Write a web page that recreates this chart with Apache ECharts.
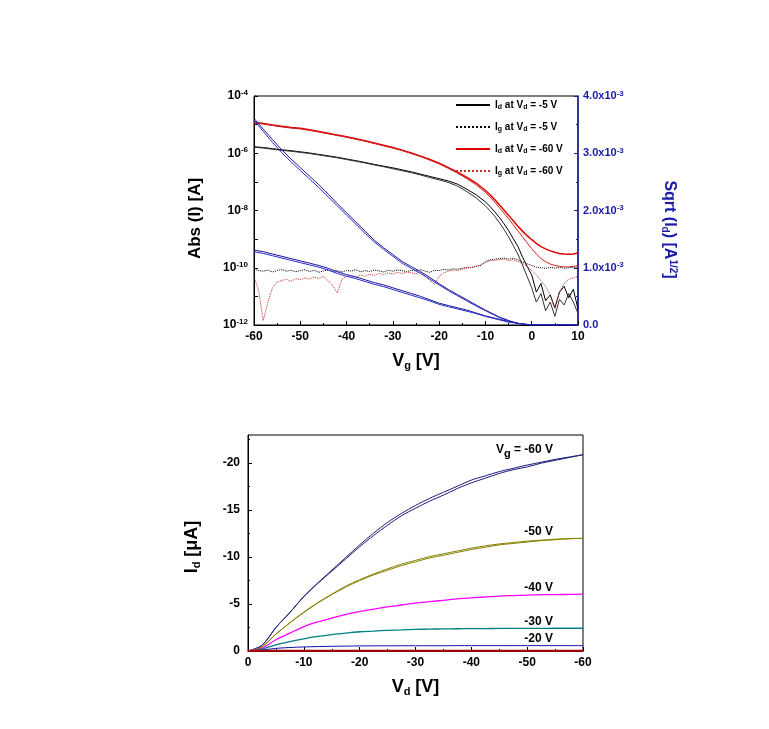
<!DOCTYPE html>
<html>
<head>
<meta charset="utf-8">
<script src="https://cdn.jsdelivr.net/npm/echarts@6/dist/echarts.min.js"></script>
<style>
html, body { margin: 0; padding: 0; background: #fff; }
#chart { width: 769px; height: 729px; }
</style>
</head>
<body>
<div id="chart"></div>
<script>
// gate voltage sweep for drain current and sqrt(Id) curves
var vgA = [-60, -58, -56, -54, -52, -50, -48, -46, -44, -42,
    -40, -38, -36, -34, -32, -30, -28, -26, -24, -22,
    -20, -18, -16, -14, -12, -10, -9, -8, -7, -6,
    -5, -4, -3, -2, -1, 0, 1, 2, 3, 4,
    5, 6, 7, 8, 9, 10];
// log10 of |Id| (A)
var logIdVd5Fwd = [-5.77, -5.80, -5.84, -5.88, -5.91, -5.95, -5.99, -6.04, -6.09, -6.14,
    -6.20, -6.26, -6.32, -6.39, -6.45, -6.51, -6.58, -6.65, -6.73, -6.81,
    -6.89, -6.97, -7.08, -7.26, -7.45, -7.70, -7.86, -8.04, -8.24, -8.46,
    -8.70, -8.98, -9.25, -9.62, -9.95, -10.25, -10.85, -10.55, -11.15, -10.95,
    -11.40, -10.85, -10.65, -11.05, -10.75, -11.45];
var logIdVd5Rev = [-5.79, -5.82, -5.86, -5.90, -5.93, -5.97, -6.01, -6.06, -6.11, -6.16,
    -6.22, -6.28, -6.34, -6.41, -6.47, -6.54, -6.61, -6.68, -6.76, -6.85,
    -6.93, -7.02, -7.15, -7.34, -7.56, -7.84, -8.01, -8.20, -8.42, -8.66,
    -8.92, -9.22, -9.52, -9.90, -10.30, -10.70, -11.20, -10.90, -11.50, -11.20,
    -11.70, -11.10, -11.30, -10.90, -11.20, -11.60];
var logIdVd60Fwd = [-4.92, -4.96, -5.01, -5.06, -5.10, -5.13, -5.18, -5.24, -5.30, -5.36,
    -5.42, -5.49, -5.56, -5.64, -5.72, -5.80, -5.89, -5.99, -6.10, -6.22,
    -6.35, -6.50, -6.66, -6.84, -7.04, -7.30, -7.45, -7.62, -7.80, -7.98,
    -8.17, -8.36, -8.55, -8.72, -8.88, -9.02, -9.15, -9.26, -9.34, -9.41,
    -9.46, -9.50, -9.52, -9.53, -9.52, -9.48];
var logIdVd60Rev = [-4.94, -4.98, -5.03, -5.08, -5.12, -5.15, -5.20, -5.26, -5.32, -5.38,
    -5.44, -5.51, -5.58, -5.66, -5.74, -5.82, -5.91, -6.01, -6.12, -6.24,
    -6.37, -6.53, -6.70, -6.89, -7.10, -7.37, -7.53, -7.71, -7.90, -8.09,
    -8.29, -8.50, -8.71, -8.92, -9.13, -9.33, -9.52, -9.68, -9.79, -9.87,
    -9.92, -9.95, -9.97, -9.97, -9.95, -9.93];
// sqrt(|Id|) in units of 1e-3 A^1/2
var sqrtVd60Fwd = [3.61, 3.42, 3.24, 3.06, 2.90, 2.75, 2.60, 2.45, 2.29, 2.12,
    1.96, 1.80, 1.64, 1.48, 1.35, 1.23, 1.11, 1.02, 0.93, 0.83,
    0.72, 0.62, 0.53, 0.44, 0.35, 0.26, 0.22, 0.18, 0.14, 0.11,
    0.08, 0.05, 0.03, 0.02, 0.01, 0.005, 0.003, 0.002, 0.002, 0.002,
    0.002, 0.002, 0.002, 0.002, 0.002, 0.002];
var sqrtVd60Rev = [3.58, 3.38, 3.19, 3.01, 2.85, 2.70, 2.55, 2.40, 2.24, 2.08,
    1.92, 1.76, 1.60, 1.45, 1.32, 1.20, 1.08, 0.99, 0.90, 0.80,
    0.70, 0.60, 0.51, 0.42, 0.33, 0.25, 0.21, 0.17, 0.13, 0.10,
    0.07, 0.05, 0.03, 0.015, 0.008, 0.004, 0.002, 0.002, 0.002, 0.002,
    0.002, 0.002, 0.002, 0.002, 0.002, 0.002];
var sqrtVd5Fwd = [1.31, 1.28, 1.24, 1.20, 1.16, 1.12, 1.08, 1.04, 0.99, 0.93,
    0.88, 0.84, 0.79, 0.74, 0.70, 0.65, 0.60, 0.55, 0.50, 0.44,
    0.38, 0.34, 0.30, 0.26, 0.21, 0.16, 0.14, 0.12, 0.10, 0.08,
    0.06, 0.05, 0.03, 0.02, 0.01, 0.005, 0.003, 0.002, 0.002, 0.002,
    0.002, 0.002, 0.002, 0.002, 0.002, 0.002];
var sqrtVd5Rev = [1.28, 1.25, 1.21, 1.17, 1.13, 1.09, 1.05, 1.01, 0.96, 0.90,
    0.85, 0.81, 0.76, 0.71, 0.67, 0.62, 0.57, 0.52, 0.47, 0.42,
    0.36, 0.32, 0.28, 0.24, 0.20, 0.15, 0.13, 0.11, 0.09, 0.07,
    0.05, 0.04, 0.025, 0.015, 0.008, 0.004, 0.002, 0.002, 0.002, 0.002,
    0.002, 0.002, 0.002, 0.002, 0.002, 0.002];

// gate leakage sweep, 1 V steps
var vgB = [-60, -59, -58, -57, -56, -55, -54, -53, -52, -51,
    -50, -49, -48, -47, -46, -45, -44, -43, -42, -41,
    -40, -39, -38, -37, -36, -35, -34, -33, -32, -31,
    -30, -29, -28, -27, -26, -25, -24, -23, -22, -21,
    -20, -19, -18, -17, -16, -15, -14, -13, -12, -11,
    -10, -9, -8, -7, -6, -5, -4, -3, -2, -1,
    0, 1, 2, 3, 4, 5, 6, 7, 8, 9,
    10];
var logIgVd5 = [-10.05, -10.10, -10.12, -10.08, -10.15, -10.10, -10.06, -10.12, -10.09, -10.14,
    -10.10, -10.07, -10.13, -10.09, -10.16, -10.11, -10.08, -10.13, -10.10, -10.15,
    -10.09, -10.12, -10.07, -10.14, -10.10, -10.13, -10.08, -10.11, -10.15, -10.09,
    -10.12, -10.08, -10.10, -10.14, -10.09, -10.11, -10.07, -10.12, -10.16, -10.09,
    -10.10, -10.06, -10.08, -10.04, -10.05, -10.02, -9.98, -10.00, -9.95, -9.92,
    -9.78, -9.72, -9.70, -9.68, -9.66, -9.70, -9.67, -9.72, -9.80, -9.86,
    -9.92, -9.98, -10.00, -10.02, -9.99, -10.01, -9.98, -10.02, -10.00, -9.99,
    -10.01];
var logIgVd60 = [-10.30, -10.80, -11.85, -11.20, -10.70, -10.50, -10.45, -10.40, -10.48, -10.38,
    -10.42, -10.35, -10.40, -10.32, -10.38, -10.30, -10.45, -10.62, -10.88, -10.40,
    -10.30, -10.28, -10.33, -10.25, -10.30, -10.22, -10.27, -10.20, -10.24, -10.18,
    -10.22, -10.16, -10.20, -10.15, -10.18, -10.22, -10.14, -10.30, -10.45, -10.58,
    -10.30, -10.18, -10.12, -10.08, -10.10, -10.05, -10.02, -9.98, -9.95, -9.90,
    -9.82, -9.76, -9.74, -9.72, -9.70, -9.75, -9.72, -9.78, -9.85, -9.95,
    -10.10, -10.25, -10.45, -10.65, -10.95, -11.45, -10.85, -10.55, -10.40, -10.35,
    -10.30];

// output curves: drain voltage (V) and drain current (uA)
var vd = [0, -2.5, -5, -7.5, -10, -12.5, -15, -17.5, -20, -22.5, -25, -27.5, -30,
    -32.5, -35, -37.5, -40, -42.5, -45, -47.5, -50, -52.5, -55, -57.5, -60];
var idVg60 = [0, -0.6, -2.5, -4.1, -5.8, -7.2, -8.5, -9.8, -11.1, -12.3, -13.4, -14.4, -15.2,
    -15.95, -16.6, -17.3, -17.9, -18.4, -18.9, -19.3, -19.6, -20.0, -20.3, -20.6, -20.9];
var idVg60Rev = [0, -0.6, -2.5, -4.1, -5.8, -7.25, -8.6, -9.95, -11.3, -12.55, -13.7, -14.65, -15.5,
    -16.25, -16.9, -17.55, -18.2, -18.65, -19.1, -19.45, -19.8, -20.1, -20.4, -20.65, -20.9];
var idVg50 = [0, -0.45, -1.8, -3.0, -4.1, -5.1, -6.0, -6.8, -7.5, -8.1, -8.6, -9.1, -9.5,
    -9.9, -10.2, -10.5, -10.8, -11.05, -11.3, -11.45, -11.6, -11.75, -11.85, -11.95, -12.0];
var idVg50Rev = [0, -0.45, -1.8, -3.0, -4.15, -5.15, -6.05, -6.9, -7.6, -8.2, -8.75, -9.25, -9.65,
    -10.05, -10.35, -10.65, -10.95, -11.2, -11.4, -11.55, -11.7, -11.8, -11.9, -11.97, -12.0];
var idVg40 = [0, -0.3, -1.2, -1.9, -2.6, -3.1, -3.5, -3.9, -4.2, -4.45, -4.7, -4.9, -5.1,
    -5.25, -5.4, -5.55, -5.65, -5.75, -5.85, -5.9, -5.95, -6.0, -6.0, -6.03, -6.05];
var idVg30 = [0, -0.2, -0.65, -1.0, -1.3, -1.55, -1.75, -1.9, -2.05, -2.12, -2.2, -2.25, -2.3,
    -2.33, -2.35, -2.37, -2.38, -2.39, -2.4, -2.4, -2.4, -2.41, -2.42, -2.42, -2.42];
var idVg20 = [0, -0.1, -0.28, -0.37, -0.43, -0.47, -0.5, -0.52, -0.54, -0.55, -0.55, -0.56, -0.56,
    -0.56, -0.56, -0.57, -0.57, -0.57, -0.57, -0.57, -0.57, -0.57, -0.57, -0.57, -0.57];
var idVg10 = [0, -0.02, -0.03, -0.03, -0.03, -0.03, -0.03, -0.03, -0.03, -0.03, -0.03, -0.03, -0.03,
    -0.03, -0.03, -0.03, -0.03, -0.03, -0.03, -0.03, -0.03, -0.03, -0.03, -0.03, -0.03];

var outLabels = ['V{sub|g} = -60 V', '-50 V', '-40 V', '-30 V', '-20 V'];
var idTicks = [0, -5, -10, -15, -20];
var idMinorTicks = [-2.5, -7.5, -12.5, -17.5, -22.5];

function logPairs(x, logs) {
    return x.map(function (v, i) { return [v, Math.pow(10, logs[i])]; });
}
function pairs(x, ys) {
    return x.map(function (v, i) { return [v, ys[i]]; });
}

var FONT = 'Liberation Sans';
var BLUE = '#1a1aa8';
var subRich = {
    sub: { fontSize: 11, fontWeight: 'bold', fontFamily: FONT, verticalAlign: 'bottom', padding: [8, 0, 0, 0] },
    sup: { fontSize: 11, fontWeight: 'bold', fontFamily: FONT, verticalAlign: 'top', padding: [0, 0, 8, 0] }
};

var myChart = echarts.init(document.getElementById('chart'), null, { renderer: 'canvas' });

function line(name, data, color, opts) {
    var s = {
        name: name,
        type: 'line',
        data: data,
        symbol: 'none',
        showSymbol: false,
        silent: true,
        animation: false,
        lineStyle: { color: color, width: 1 },
        itemStyle: { color: color }
    };
    for (var k in opts) s[k] = opts[k];
    return s;
}

var outColors = ['#1c1c7a', '#868000', '#ff00ff', '#008080', '#1010b0'];
var outLabelStyle = { show: true, align: 'right', fontSize: 12, fontWeight: 'bold', color: '#000', rich: subRich };
function endLabel(text, dy) {
    var l = { formatter: text, offset: [-22, dy] };
    for (var k in outLabelStyle) l[k] = outLabelStyle[k];
    return l;
}

var option = {
    backgroundColor: '#fff',
    animation: false,
    textStyle: { fontFamily: FONT },
    grid: [
        { left: 254, top: 96, width: 324, height: 229, show: true, borderColor: '#000', borderWidth: 1 },
        { left: 248, top: 435, width: 335, height: 216, show: true, borderColor: '#000', borderWidth: 1 }
    ],
    legend: {
        data: ['Id at Vd = -5 V', 'Ig at Vd = -5 V', 'Id at Vd = -60 V', 'Ig at Vd = -60 V'],
        orient: 'vertical',
        left: 450,
        top: 95,
        itemWidth: 34,
        itemHeight: 12,
        itemGap: 11,
        selectedMode: false,
        itemStyle: { opacity: 0, borderWidth: 0 },
        formatter: function (name) {
            return name.replace('Id', 'I{s|d}').replace('Ig', 'I{s|g}').replace('Vd', 'V{s|d}');
        },
        textStyle: {
            fontSize: 10, fontWeight: 'bold', fontFamily: FONT, color: '#000',
            rich: { s: { fontSize: 7, fontWeight: 'bold', fontFamily: FONT, verticalAlign: 'bottom', padding: [5, 0, 0, 0] } }
        }
    },
    xAxis: [{
        gridIndex: 0, type: 'value', min: -60, max: 10, interval: 10,
        name: 'V{sub|g} [V]', nameLocation: 'middle', nameGap: 27,
        nameTextStyle: { fontSize: 18, fontWeight: 'bold', fontFamily: FONT, color: '#000', rich: subRich },
        axisLine: { onZero: false, lineStyle: { color: '#000' } },
        axisTick: { inside: true, length: 4, lineStyle: { color: '#000' } },
        minorTick: { show: true, splitNumber: 2, length: 2, lineStyle: { color: '#000' } },
        splitLine: { show: false },
        axisLabel: { fontSize: 12, fontWeight: 'bold', color: '#000', margin: 6 }
    }, {
        gridIndex: 1, type: 'value', min: -60, max: 0, interval: 10, inverse: true,
        name: 'V{sub|d} [V]', nameLocation: 'middle', nameGap: 27,
        nameTextStyle: { fontSize: 18, fontWeight: 'bold', fontFamily: FONT, color: '#000', rich: subRich },
        axisLine: { onZero: false, lineStyle: { color: '#000' } },
        axisTick: { inside: true, length: 4, lineStyle: { color: '#000' } },
        minorTick: { show: true, splitNumber: 2, length: 2, lineStyle: { color: '#000' } },
        splitLine: { show: false },
        axisLabel: { fontSize: 12, fontWeight: 'bold', color: '#000', margin: 6 }
    }],
    yAxis: [{
        gridIndex: 0, type: 'log', logBase: 10, min: 1e-12, max: 1e-4,
        name: 'Abs (I) [A]', nameLocation: 'middle', nameGap: 50, nameRotate: 90,
        nameTextStyle: { fontSize: 17, fontWeight: 'bold', fontFamily: FONT, color: '#000', padding: [0, 0, 0, -16] },
        axisLine: { onZero: false, lineStyle: { color: '#000' } },
        axisTick: { inside: true, length: 4, lineStyle: { color: '#000' } },
        splitLine: { show: false },
        axisLabel: {
            margin: 6, color: '#000',
            formatter: function (v) {
                var e = Math.round(Math.log(v) / Math.LN10);
                if (e % 2 !== 0) return '';
                return '{b|10}{p|' + e + '}';
            },
            rich: {
                b: { fontSize: 12, fontWeight: 'bold', fontFamily: FONT, color: '#000' },
                p: { fontSize: 8, fontWeight: 'bold', fontFamily: FONT, color: '#000', verticalAlign: 'top', padding: [0, 0, 6, 0] }
            }
        }
    }, {
        gridIndex: 0, type: 'value', min: 0, max: 4, interval: 1, position: 'right',
        name: 'Sqrt (I{sub|d}) [A{sup|1/2}]', nameLocation: 'middle', nameGap: 82, nameRotate: -90,
        nameTextStyle: {
            fontSize: 16, fontWeight: 'bold', fontFamily: FONT, color: BLUE, padding: [0, 0, 0, 38],
            rich: {
                sub: { fontSize: 10, fontWeight: 'bold', fontFamily: FONT, color: BLUE, verticalAlign: 'bottom', padding: [8, 0, 0, 0] },
                sup: { fontSize: 10, fontWeight: 'bold', fontFamily: FONT, color: BLUE, verticalAlign: 'top', padding: [0, 0, 8, 0] }
            }
        },
        axisLine: { show: true, onZero: false, lineStyle: { color: BLUE, width: 1.5 } },
        axisTick: { inside: true, length: 4, lineStyle: { color: BLUE } },
        minorTick: { show: true, splitNumber: 2, length: 2, lineStyle: { color: BLUE } },
        splitLine: { show: false },
        axisLabel: {
            margin: 5, color: BLUE,
            formatter: function (v) {
                if (v === 0) return '{b|0.0}';
                return '{b|' + v.toFixed(1) + 'x10}{p|-3}';
            },
            rich: {
                b: { fontSize: 11, fontWeight: 'bold', fontFamily: FONT, color: BLUE },
                p: { fontSize: 8, fontWeight: 'bold', fontFamily: FONT, color: BLUE, verticalAlign: 'top', padding: [0, 0, 5, 0] }
            }
        }
    }, {
        gridIndex: 1, type: 'value', min: -23, max: 0, inverse: true,
        name: 'I{sub|d} [\u03bcA]', nameLocation: 'middle', nameGap: 46, nameRotate: 90,
        nameTextStyle: { fontSize: 18, fontWeight: 'bold', fontFamily: FONT, color: '#000', rich: subRich, padding: [0, 0, 0, -8] },
        axisLine: { onZero: false, lineStyle: { color: '#000' } },
        axisTick: { inside: true, length: 4, customValues: idTicks, lineStyle: { color: '#000' } },
        splitLine: { show: false },
        axisLabel: { fontSize: 12, fontWeight: 'bold', color: '#000', margin: 8, customValues: idTicks }
    }, {
        gridIndex: 1, type: 'value', min: -23, max: 0, inverse: true, position: 'left',
        axisLine: { show: false, onZero: false },
        axisTick: { inside: true, length: 2, customValues: idMinorTicks, lineStyle: { color: '#000' } },
        axisLabel: { show: false },
        splitLine: { show: false }
    }],
    series: [
        line('Id at Vd = -5 V', logPairs(vgA, logIdVd5Fwd), '#000', {}),
        line('Id -5 rev', logPairs(vgA, logIdVd5Rev), '#333', {}),
        line('Ig at Vd = -5 V', logPairs(vgB, logIgVd5), '#000', { lineStyle: { color: '#000', width: 1, type: 'dotted' } }),
        line('Id at Vd = -60 V', logPairs(vgA, logIdVd60Fwd), '#e00000', { lineStyle: { color: '#e00000', width: 1.5 } }),
        line('Id -60 rev', logPairs(vgA, logIdVd60Rev), '#d02020', {}),
        line('Ig at Vd = -60 V', logPairs(vgB, logIgVd60), '#c03030', { lineStyle: { color: '#c03030', width: 1, type: 'dotted' } }),
        line('sqrt -60 fwd', pairs(vgA, sqrtVd60Fwd), '#1a1a90', { yAxisIndex: 1 }),
        line('sqrt -60 rev', pairs(vgA, sqrtVd60Rev), '#2a2ad0', { yAxisIndex: 1 }),
        line('sqrt -5 fwd', pairs(vgA, sqrtVd5Fwd), '#1a1a90', { yAxisIndex: 1 }),
        line('sqrt -5 rev', pairs(vgA, sqrtVd5Rev), '#2a2ad0', { yAxisIndex: 1 }),

        line('Vg -60', pairs(vd, idVg60), outColors[0], {
            xAxisIndex: 1, yAxisIndex: 2, smooth: 0.3, endLabel: endLabel(outLabels[0], -5)
        }),
        line('Vg -60 rev', pairs(vd, idVg60Rev), outColors[0], { xAxisIndex: 1, yAxisIndex: 2, smooth: 0.3 }),
        line('Vg -50', pairs(vd, idVg50), outColors[1], {
            xAxisIndex: 1, yAxisIndex: 2, smooth: 0.3, endLabel: endLabel(outLabels[1], -7)
        }),
        line('Vg -50 rev', pairs(vd, idVg50Rev), outColors[1], { xAxisIndex: 1, yAxisIndex: 2, smooth: 0.3 }),
        line('Vg -40', pairs(vd, idVg40), outColors[2], {
            xAxisIndex: 1, yAxisIndex: 2, smooth: 0.3, lineStyle: { color: outColors[2], width: 1.3 },
            endLabel: endLabel(outLabels[2], -6)
        }),
        line('Vg -30', pairs(vd, idVg30), outColors[3], {
            xAxisIndex: 1, yAxisIndex: 2, smooth: 0.3, lineStyle: { color: outColors[3], width: 1.3 },
            endLabel: endLabel(outLabels[3], -7)
        }),
        line('Vg -20', pairs(vd, idVg20), outColors[4], {
            xAxisIndex: 1, yAxisIndex: 2, smooth: 0.3, endLabel: endLabel(outLabels[4], -7)
        }),
        line('Vg -10', pairs(vd, idVg10), '#b00000', { xAxisIndex: 1, yAxisIndex: 2, lineStyle: { color: '#b00000', width: 2 } })
    ]
};

myChart.setOption(option);
</script>
</body>
</html>
